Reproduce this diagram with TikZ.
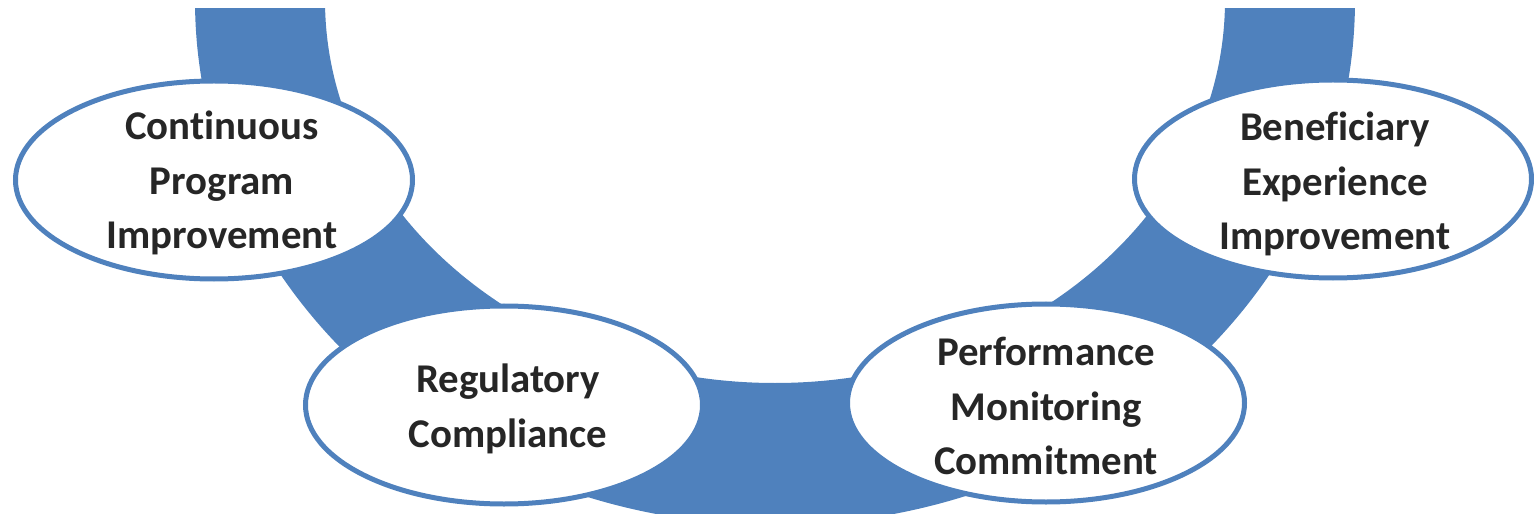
\documentclass[tikz,border=0pt]{standalone}
\usepackage{fontspec}
\setmainfont{Carlito}[Ligatures=NoCommon]
\usetikzlibrary{shapes.geometric}
\definecolor{bandblue}{RGB}{79,129,189}
\definecolor{txtgray}{RGB}{38,38,38}
\tikzset{
  stage/.style={ellipse, draw=bandblue, line width=5bp, fill=white,
    minimum width=397bp, minimum height=198bp, inner sep=0pt},
  stagetext/.style={align=center, text=txtgray, inner sep=0pt,
    font=\fontsize{41}{55}\selectfont\bfseries}
}
\begin{document}
\begin{tikzpicture}[x=1bp, y=-1bp]
\useasboundingbox (0,0) rectangle (1534,514);
\begin{scope}
  \clip (0,9) rectangle (1534,514);
  \fill[bandblue, even odd rule] (775,0) ellipse (580 and 525) (775,0) ellipse (450 and 383);
\end{scope}
\node[stage] (cpi) at (214,180) {};
\node[stage] (rc) at (504,405) {};
\node[stage] (pmc) at (1046,403) {};
\node[stage] (bei) at (1333,179) {};
\node[stagetext] (cpit) at ([xshift=8bp,yshift=-3bp]cpi.center) {Continuous\\Program\\Improvement};
\node[stagetext] (rct) at ([xshift=4bp,yshift=-4bp]rc.center) {Regulatory\\Compliance};
\node[stagetext] (pmct) at ([yshift=-3bp]pmc.center) {Performance\\Monitoring\\Commitment};
\node[stagetext] (beit) at ([xshift=2bp,yshift=-5bp]bei.center) {Beneficiary\\Experience\\Improvement};
\end{tikzpicture}
\end{document}
